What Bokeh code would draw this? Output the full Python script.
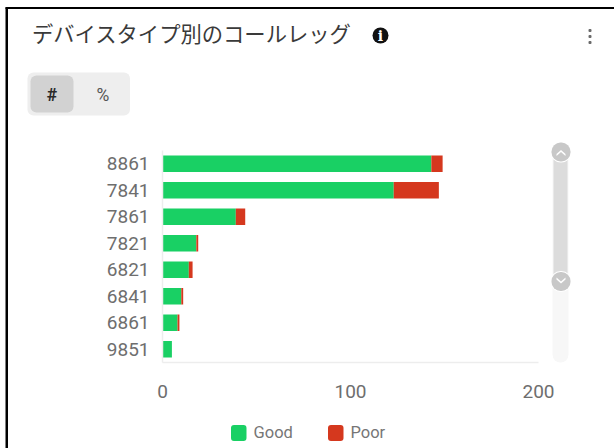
from bokeh.embed import file_html
from bokeh.models import (BoxAnnotation, ColumnDataSource, FactorRange, FixedTicker,
                          Label, PolyAnnotation, Range1d)
from bokeh.plotting import figure
from bokeh.resources import INLINE

# Call leg counts per device type
devices = ["8861", "7841", "7861", "7821", "6821", "6841", "6861", "9851"]
good = [143, 123, 39, 18, 14, 10, 8, 5]
poor = [6, 24, 5, 1, 2, 1, 1, 0]
series = ["Good", "Poor"]
colors = ["#19D064", "#D5381E"]
x_ticks = [0, 100, 200]
title_text = "デバイスタイプ別のコールレッグ"
toggle_labels = ["#", "%"]

W, H = 614, 448
FONT = "Roboto"
STACKED = {"position": "absolute", "left": "0px", "top": "0px"}

# Card furniture lives on a pixel-scaled backdrop; the chart sits on top of it.
card = figure(width=W, height=H, output_backend="svg", toolbar_location=None,
              x_range=Range1d(0, W), y_range=Range1d(H, 0),
              x_axis_type=None, y_axis_type=None, min_border=0,
              outline_line_color=None, background_fill_color="white",
              border_fill_color="white", styles=STACKED)
card.grid.visible = False

p = figure(width=W, height=H, output_backend="svg", toolbar_location=None,
           x_range=Range1d(0, 200), y_range=FactorRange(factors=devices[::-1], range_padding=0),
           min_border_left=162, min_border_right=76, min_border_top=150, min_border_bottom=86,
           outline_line_color=None, background_fill_color=None, border_fill_color=None,
           styles=STACKED)
p.grid.visible = False

source = ColumnDataSource(dict(device=devices, Good=good, Poor=poor))
p.hbar_stack(series, y="device", height=0.63, color=colors, source=source, line_color=None)

p.xaxis.ticker = FixedTicker(ticks=x_ticks)
for axis in (p.xaxis[0], p.yaxis[0]):
    axis.axis_line_color = "#EDEDED"
    axis.axis_line_width = 1.5
    axis.major_tick_line_color = None
    axis.minor_tick_line_color = None
    axis.major_label_text_font = FONT
    axis.major_label_text_font_size = "19px"
    axis.major_label_text_color = "#6E6E6E"
p.xaxis.major_label_standoff = 16
p.yaxis.major_label_standoff = 7


def box(l, r, t, b, color, radius=0):
    card.add_layout(BoxAnnotation(left=l, right=r, top=t, bottom=b,
                                  fill_color=color, fill_alpha=1, line_color=None,
                                  border_radius=radius, level="annotation"))


def text(x, y, s, size, color, align="left", font=FONT, style="normal"):
    card.add_layout(Label(x=x, y=y, text=s,
                          text_font=font, text_font_size=f"{size}px", text_color=color,
                          text_align=align, text_baseline="middle", text_font_style=style,
                          level="annotation"))


def chevron(cx, cy, up):
    d = -1 if up else 1
    xs = [cx - 4.5, cx, cx + 4.5, cx + 4.5, cx, cx - 4.5]
    ys = [cy - 2 * d, cy + 2 * d, cy - 2 * d, cy - 4 * d, cy, cy - 4 * d]
    card.add_layout(PolyAnnotation(xs=xs, ys=ys,
                                   fill_color="white", fill_alpha=1, line_color=None,
                                   level="annotation"))


# Card edges
box(5, 7.5, 7, 448, "#000000")
box(5, 614, 6.5, 8.5, "#000000")

# Header
text(31.5, 32, title_text, 21.3, "#3A3A3A", font="Noto Sans CJK JP")
box(372, 388, 27, 43, "#111111", 8)
text(380, 35, "i", 14, "#FFFFFF", "center", "DejaVu Serif", "bold")
for cy in (30, 36, 42):
    box(588, 591, cy - 1.5, cy + 1.5, "#6A6A6A", 1)

# #/% toggle
box(27, 129.5, 72, 115, "#EEEEEE", 6)
box(30, 73, 75, 112, "#D2D2D2", 6)
text(51.5, 94.5, toggle_labels[0], 17.5, "#2A2A2A", "center", style="bold")
text(102.5, 94.5, toggle_labels[1], 17.5, "#555555", "center")

# Range slider beside the plot
box(552, 568, 150, 362, "#F7F7F7", 8)
box(553, 567, 151, 281, "#DCDCDC")
for cy, up in ((151.5, True), (281, False)):
    box(550, 571, cy - 10.5, cy + 10.5, "#FFFFFF", 10)
    box(551, 570, cy - 9.5, cy + 9.5, "#C8C8C8", 9)
    chevron(560.5, cy, up)

# Legend
for x0, name, color in zip((230.5, 327.5), series, colors):
    box(x0, x0 + 15.5, 424.5, 440.5, color, 3)
    text(x0 + 22.5, 432, name, 16.5, "#767676")

open("out.html", "w").write(file_html((card, p), INLINE))
